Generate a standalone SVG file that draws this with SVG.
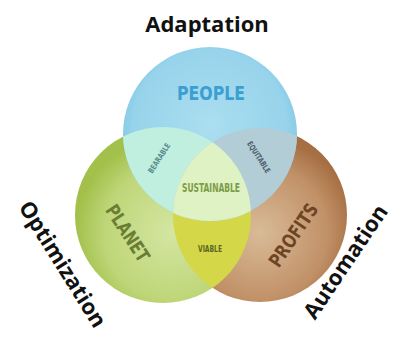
<svg xmlns="http://www.w3.org/2000/svg" width="395" height="337" viewBox="0 0 395 337">
  <defs>
    <radialGradient id="gBlue" cx="50%" cy="45%" r="55%">
      <stop offset="0" stop-color="#abdef0"/>
      <stop offset="0.8" stop-color="#97d3eb"/>
      <stop offset="1" stop-color="#7fc5e3"/>
    </radialGradient>
    <radialGradient id="gGreen" cx="55%" cy="60%" r="55%">
      <stop offset="0" stop-color="#d4e6a2"/>
      <stop offset="0.7" stop-color="#bed678"/>
      <stop offset="1" stop-color="#a2c04a"/>
    </radialGradient>
    <radialGradient id="gBrown" cx="50%" cy="60%" r="55%">
      <stop offset="0" stop-color="#d9bb98"/>
      <stop offset="0.7" stop-color="#c19168"/>
      <stop offset="1" stop-color="#a66e42"/>
    </radialGradient>
    <clipPath id="clipBlue"><circle cx="210" cy="134" r="87"/></clipPath>
    <clipPath id="clipGreen"><circle cx="163" cy="215" r="88"/></clipPath>
    <style>
      .outer { font-family: "Open Sans", "Liberation Sans", sans-serif; font-weight: 700; font-size: 22px; fill: #111; text-anchor: middle; }
      .big { font-family: "DejaVu Sans Condensed", "DejaVu Sans", sans-serif; font-weight: 700; text-anchor: middle; }
      .small { font-family: "DejaVu Sans Condensed", "DejaVu Sans", sans-serif; font-weight: 700; text-anchor: middle; }
    </style>
  </defs>

  <rect width="395" height="337" fill="#ffffff"/>

  <!-- base circles -->
  <g id="profits">
    <circle cx="260" cy="215" r="87" fill="url(#gBrown)"/>
  </g>
  <g id="planet">
    <circle cx="163" cy="215" r="88" fill="url(#gGreen)"/>
  </g>
  <g id="people">
    <circle cx="210" cy="134" r="87" fill="url(#gBlue)"/>
  </g>

  <!-- overlaps -->
  <g id="viable">
    <circle cx="260" cy="215" r="87" fill="#d3d748" clip-path="url(#clipGreen)"/>
  </g>
  <g id="bearable">
    <circle cx="163" cy="215" r="88" fill="#c0efdf" clip-path="url(#clipBlue)"/>
  </g>
  <g id="equitable">
    <circle cx="260" cy="215" r="87" fill="#b3cdd6" clip-path="url(#clipBlue)"/>
  </g>
  <g id="sustainable">
    <g clip-path="url(#clipBlue)">
      <circle cx="260" cy="215" r="87" fill="#def2c4" clip-path="url(#clipGreen)"/>
    </g>
  </g>

  <!-- circle labels -->
  <text class="big" x="211" y="100" font-size="20" fill="#3b9fd1" textLength="68" lengthAdjust="spacingAndGlyphs">PEOPLE</text>
  <text class="big" transform="translate(128,233) rotate(57)" y="7" font-size="19" fill="#6b7d34" textLength="64" lengthAdjust="spacingAndGlyphs">PLANET</text>
  <text class="big" transform="translate(293,235) rotate(-56)" y="7" font-size="19" fill="#6e4524" textLength="72" lengthAdjust="spacingAndGlyphs">PROFITS</text>

  <!-- overlap labels -->
  <text class="small" x="211" y="192" font-size="12" fill="#7c9c45" textLength="58" lengthAdjust="spacingAndGlyphs">SUSTAINABLE</text>
  <text class="small" x="210" y="252" font-size="9" fill="#5e6524" textLength="24" lengthAdjust="spacingAndGlyphs">VIABLE</text>
  <text class="small" transform="translate(159,158) rotate(-57)" y="3" font-size="8" fill="#5a8a8e" textLength="34" lengthAdjust="spacingAndGlyphs">BEARABLE</text>
  <text class="small" transform="translate(259,157) rotate(57)" y="3" font-size="8" fill="#4d5e6c" textLength="36" lengthAdjust="spacingAndGlyphs">EQUITABLE</text>

  <!-- outer labels -->
  <text class="outer" x="207" y="32">Adaptation</text>
  <text class="outer" transform="translate(63,264) rotate(58)" y="8">Optimization</text>
  <text class="outer" transform="translate(346,262) rotate(-56)" y="7" font-size="21">Automation</text>
</svg>
